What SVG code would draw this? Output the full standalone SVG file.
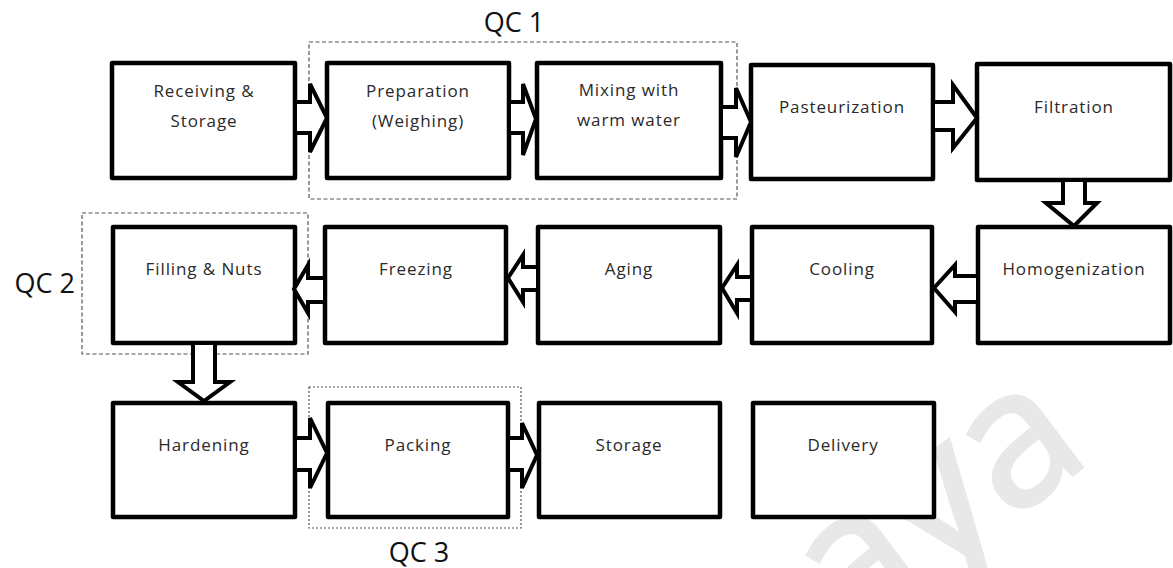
<svg xmlns="http://www.w3.org/2000/svg" width="1173" height="568" viewBox="0 0 1173 568">
<style>
.box{fill:#fff;stroke:#000;stroke-width:4.5;stroke-linejoin:round}
.arr{fill:#fff;stroke:#000;stroke-width:4;stroke-linejoin:miter}
.lbl{font-family:"Open Sans","Noto Sans",sans-serif;font-size:17px;letter-spacing:0.9px;fill:#2a2a2a;text-anchor:middle}
.qc{font-family:"Open Sans","Noto Sans",sans-serif;font-size:27px;fill:#111}
.qcbox{fill:none;stroke:#555;stroke-width:1.2;stroke-dasharray:4 2.5}
.qcdot{fill:none;stroke:#555;stroke-width:1.2;stroke-dasharray:2 2}
.wm{font-family:"Open Sans","Noto Sans",sans-serif;font-size:190px;fill:#e8e8e8;stroke:#e8e8e8;stroke-width:4;text-anchor:end}
</style>
<g id="watermark">
<text class="wm" transform="translate(1094 458) rotate(-37)" x="0" y="0">aya</text>
</g>
<g id="qc-groups">
<rect id="qc1" class="qcbox" x="309" y="42" width="428" height="157"/>
<rect id="qc2" class="qcbox" x="82" y="213" width="226" height="141"/>
<rect id="qc3" class="qcdot" x="309" y="387" width="212" height="141"/>
<text class="qc" x="514" y="32" text-anchor="middle">QC 1</text>
<text class="qc" x="75" y="293" text-anchor="end">QC 2</text>
<text class="qc" x="419" y="562" text-anchor="middle">QC 3</text>
</g>
<g id="n1"><rect class="box" x="112" y="63" width="183" height="115"/><text class="lbl" x="204" y="97">Receiving &amp;</text><text class="lbl" x="204" y="127">Storage</text></g>
<g id="n2"><rect class="box" x="327" y="63" width="182" height="115"/><text class="lbl" x="418" y="97">Preparation</text><text class="lbl" x="418" y="127">(Weighing)</text></g>
<g id="n3"><rect class="box" x="537" y="63" width="184" height="115"/><text class="lbl" x="629" y="96">Mixing with</text><text class="lbl" x="629" y="126">warm water</text></g>
<g id="n4"><rect class="box" x="751" y="65" width="182" height="114"/><text class="lbl" x="842" y="113">Pasteurization</text></g>
<g id="n5"><rect class="box" x="977" y="64" width="193" height="116"/><text class="lbl" x="1074" y="113">Filtration</text></g>
<g id="n6"><rect class="box" x="978" y="227" width="192" height="116"/><text class="lbl" x="1074" y="275">Homogenization</text></g>
<g id="n7"><rect class="box" x="752" y="227" width="180" height="116"/><text class="lbl" x="842" y="275">Cooling</text></g>
<g id="n8"><rect class="box" x="538" y="227" width="182" height="116"/><text class="lbl" x="629" y="275">Aging</text></g>
<g id="n9"><rect class="box" x="325" y="227" width="181" height="116"/><text class="lbl" x="416" y="275">Freezing</text></g>
<g id="n10"><rect class="box" x="113" y="227" width="182" height="116"/><text class="lbl" x="204" y="275">Filling &amp; Nuts</text></g>
<g id="n11"><rect class="box" x="113" y="403" width="182" height="114"/><text class="lbl" x="204" y="451">Hardening</text></g>
<g id="n12"><rect class="box" x="328" y="403" width="180" height="114"/><text class="lbl" x="418" y="451">Packing</text></g>
<g id="n13"><rect class="box" x="539" y="403" width="181" height="114"/><text class="lbl" x="629" y="451">Storage</text></g>
<g id="n14"><rect class="box" x="753" y="403" width="181" height="114"/><text class="lbl" x="843" y="451">Delivery</text></g>
<g id="connectors">
<path class="arr" d="M297,102 H310 V84 L327,118 L310,152 V133 H297"/>
<path class="arr" d="M511,102 H523 V84 L536,119 L523,155 V133 H511"/>
<path class="arr" d="M723,107 H736 V88 L751,122 L736,157 V138 H723"/>
<path class="arr" d="M935,102 H953 V85 L977,118 L953,148 V130 H935"/>
<path class="arr" d="M1063,182 V203 H1046 L1074,226 L1097,203 H1085 V182"/>
<path class="arr" d="M976,276 H955 V265 L934,288 L955,312 V302 H976"/>
<path class="arr" d="M750,277 H737 V265 L722,288 L737,313 V300 H750"/>
<path class="arr" d="M536,267 H523 V255 L508,278 L523,302 V290 H536"/>
<path class="arr" d="M323,278 H308 V265 L294,289 L308,313 V302 H323"/>
<path class="arr" d="M193,345 V382 H178 L204,401 L230,382 H215 V345"/>
<path class="arr" d="M297,438 H310 V418 L327,453 L310,488 V470 H297"/>
<path class="arr" d="M510,438 H522 V423 L537,455 L522,488 V470 H510"/>
</g>
</svg>
